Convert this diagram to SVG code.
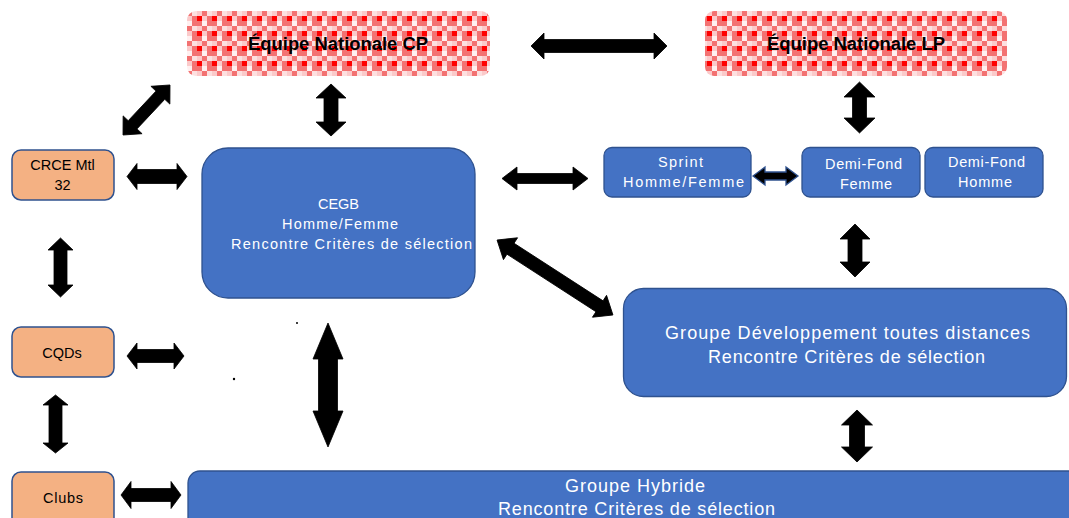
<svg xmlns="http://www.w3.org/2000/svg" width="1069" height="518" viewBox="0 0 1069 518">
<style>
.blue{fill:#4472c4;stroke:#2f528f;stroke-width:1.3}
.org{fill:#f4b183;stroke:#2f528f;stroke-width:1.5}
.chk{fill:url(#checks)}
.wt{fill:#ffffff;font-family:"Liberation Sans",Arial,sans-serif;text-anchor:middle}
.bk{fill:#000000;font-family:"Liberation Sans",Arial,sans-serif;text-anchor:middle}
.hd{font-weight:bold;font-size:17.5px}
.arr path{fill:#000000;stroke:#000000;stroke-width:0.8;stroke-linejoin:miter}
</style>
<defs>
<pattern id="checks" patternUnits="userSpaceOnUse" x="2" y="1" width="15" height="15">
<rect x="0" y="0" width="15" height="15" fill="#fbd0d0"/>
<rect x="0" y="0" width="5" height="5" fill="#ff0000"/>
<rect x="5" y="0" width="5" height="5" fill="#fbcaca"/>
<rect x="10" y="0" width="5" height="5" fill="#f37272"/>
<rect x="0" y="5" width="5" height="5" fill="#f37272"/>
<rect x="5" y="5" width="5" height="5" fill="#fff0f0"/>
<rect x="10" y="5" width="5" height="5" fill="#f37272"/>
<rect x="0" y="10" width="5" height="5" fill="#fbcaca"/>
<rect x="5" y="10" width="5" height="5" fill="#f37272"/>
<rect x="10" y="10" width="5" height="5" fill="#fde0e0"/>
</pattern>
</defs>

<g id="node-equipe-cp">
<rect class="chk" x="187" y="11" width="303" height="65" rx="9"/>
<text class="bk hd" x="338" y="50" textLength="180" lengthAdjust="spacingAndGlyphs">Équipe Nationale CP</text>
</g>
<g id="node-equipe-lp">
<rect class="chk" x="705" y="11" width="302" height="65" rx="9"/>
<text class="bk hd" x="856" y="50" textLength="178" lengthAdjust="spacingAndGlyphs">Équipe Nationale LP</text>
</g>

<g id="node-crce">
<rect class="org" x="12" y="150" width="102" height="50" rx="9"/>
<text class="bk" x="62.5" y="170" font-size="14.5">CRCE Mtl</text>
<text class="bk" x="62.5" y="190" font-size="14.5">32</text>
</g>
<g id="node-cqds">
<rect class="org" x="12" y="327" width="102" height="50" rx="9"/>
<text class="bk" x="62" y="358" font-size="14.5">CQDs</text>
</g>
<g id="node-clubs">
<rect class="org" x="12" y="472" width="102" height="60" rx="9"/>
<text class="bk" x="63" y="503" font-size="14.5" textLength="40">Clubs</text>
</g>

<g id="node-cegb">
<rect class="blue" x="202" y="148" width="273" height="150" rx="26"/>
<text class="wt" x="338.5" y="209" font-size="14.5">CEGB</text>
<text class="wt" x="340" y="229" font-size="14.5" textLength="116">Homme/Femme</text>
<text class="wt" x="351.5" y="249" font-size="14.5" textLength="241">Rencontre Critères de sélection</text>
</g>

<g id="node-sprint">
<rect class="blue" x="604" y="147.5" width="147" height="49.5" rx="8"/>
<text class="wt" x="680.5" y="167" font-size="14.5" textLength="45">Sprint</text>
<text class="wt" x="683.5" y="187" font-size="14.5" textLength="121">Homme/Femme</text>
</g>
<g id="node-demifond-femme">
<rect class="blue" x="802" y="147.5" width="118" height="49.5" rx="8"/>
<text class="wt" x="863.5" y="169" font-size="14.5" textLength="77">Demi-Fond</text>
<text class="wt" x="866" y="189" font-size="14.5" textLength="52">Femme</text>
</g>
<g id="node-demifond-homme">
<rect class="blue" x="925" y="147.5" width="118" height="49.5" rx="8"/>
<text class="wt" x="986.5" y="167" font-size="14.5" textLength="77">Demi-Fond</text>
<text class="wt" x="985" y="187" font-size="14.5" textLength="54">Homme</text>
</g>

<g id="node-groupe-dev">
<rect class="blue" x="623.5" y="288.5" width="443" height="108" rx="20"/>
<text class="wt" x="847.5" y="339" font-size="18" textLength="365">Groupe Développement toutes distances</text>
<text class="wt" x="846.5" y="363" font-size="18" textLength="277">Rencontre Critères de sélection</text>
</g>

<g id="node-groupe-hybride">
<rect class="blue" x="188" y="471" width="900" height="70" rx="12"/>
<text class="wt" x="635" y="491.5" font-size="18" textLength="140">Groupe Hybride</text>
<text class="wt" x="636.5" y="515" font-size="18" textLength="277">Rencontre Critères de sélection</text>
</g>

<g id="connectors" class="arr">
<path d="M531,46 L544,33 L544,39.5 L654,39.5 L654,33 L667,46 L654,59 L654,52.5 L544,52.5 L544,59 Z"/>
<path d="M331,84 L346,98 L338,98 L338,122 L346,122 L331,136 L316,122 L324,122 L324,98 L316,98 Z"/>
<path d="M859.5,82 L875,97 L866.5,97 L866.5,118 L875,118 L859.5,133 L844,118 L852.5,118 L852.5,97 L844,97 Z"/>
<path d="M855,224 L870,239 L862,239 L862,262 L870,262 L855,277 L840,262 L848,262 L848,239 L840,239 Z"/>
<path d="M857,410 L872.5,425 L864.5,425 L864.5,447 L872.5,447 L857,462 L841.5,447 L849.5,447 L849.5,425 L841.5,425 Z"/>
<path d="M328,323 L343,359 L337.5,359 L337.5,411 L343,411 L328,447 L313,411 L318.5,411 L318.5,359 L313,359 Z"/>
<path d="M60.5,238 L73,250 L67,250 L67,285 L73,285 L60.5,297 L48,285 L54,285 L54,250 L48,250 Z"/>
<path d="M55.5,395 L68,405 L62,405 L62,443 L68,443 L55.5,453 L43,443 L49,443 L49,405 L43,405 Z"/>
<path d="M127,176.5 L137,163.5 L137,169.5 L177,169.5 L177,163.5 L187,176.5 L177,189.5 L177,183.5 L137,183.5 L137,189.5 Z"/>
<path d="M502,178.5 L517,167 L517,173.5 L573,173.5 L573,167 L588,178.5 L573,190 L573,183.5 L517,183.5 L517,190 Z"/>
<path d="M753,176 L765,167 L765,172 L786,172 L786,167 L798,176 L786,185 L786,180 L765,180 L765,185 Z" style="stroke:#2f528f;stroke-width:1.3"/>
<path d="M127,356 L137,343 L137,349.5 L174,349.5 L174,343 L184,356 L174,369 L174,362.5 L137,362.5 L137,369 Z"/>
<path d="M121,495 L131,481.5 L131,488.5 L171,488.5 L171,481.5 L181,495 L171,508.5 L171,501.5 L131,501.5 L131,508.5 Z"/>
<path transform="translate(146.5,110) rotate(-46.8)" d="M-34.3,0 L-20.3,-13 L-20.3,-6 L20.3,-6 L20.3,-13 L34.3,0 L20.3,13 L20.3,6 L-20.3,6 L-20.3,13 Z"/>
<path transform="translate(555,277.5) rotate(32.9)" d="M-69,0 L-53,-13 L-53,-6.5 L53,-6.5 L53,-13 L69,0 L53,13 L53,6.5 L-53,6.5 L-53,13 Z"/>
</g>

<circle cx="297" cy="323" r="1" fill="#000000"/>
<circle cx="234" cy="379" r="1.2" fill="#000000"/>
</svg>
